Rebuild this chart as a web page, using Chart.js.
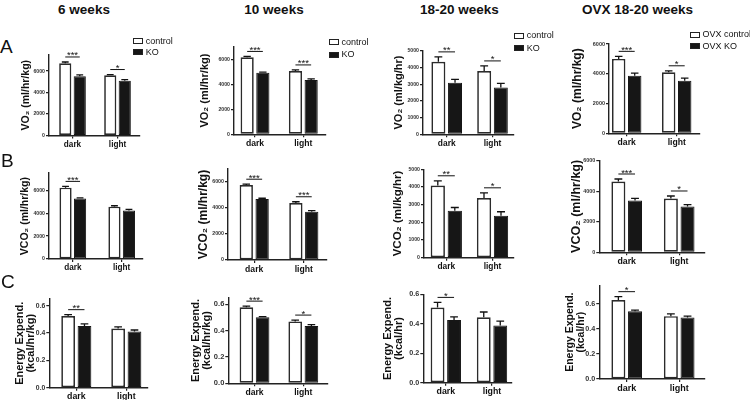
<!DOCTYPE html>
<html>
<head>
<meta charset="utf-8">
<script src="https://cdn.jsdelivr.net/npm/chart.js@4.4.1/dist/chart.umd.min.js"></script>
<style>
  body { margin: 0; background: #fff; }
  #fig { position: relative; width: 750px; height: 400px; overflow: hidden;
         font-family: 'Liberation Sans', Arial, sans-serif; color: #111; }
  #fig canvas { position: absolute; }
  .coltitle { position: absolute; font-weight: bold; font-size: 13.5px; line-height: 13.5px;
              white-space: nowrap; transform: translateX(-50%); }
  .letter { position: absolute; font-size: 19px; line-height: 19px; }
  .legend { position: absolute; font-size: 9px; line-height: 9px; white-space: nowrap; }
  .legend .box { position: absolute; width: 9.5px; height: 6px; border: 1.3px solid #222; box-sizing: border-box; }
  .legend .txt { position: absolute; }
</style>
</head>
<body>
<div id="fig"></div>
<script>
// categories / titles
const groups = ['dark', 'light'];
const ages = ['6 weeks', '10 weeks', '18-20 weeks', 'OVX 18-20 weeks'];
const seriesNames = [['control', 'KO'], ['control', 'KO'], ['control', 'KO'], ['OVX control', 'OVX KO']];

// VO2, one [dark, light] pair per age
const vo2Control    = [[6720, 5620], [6160, 5060], [4340, 3780], [5000, 4100]];
const vo2ControlErr = [[130, 60], [70, 90], [290, 310], [170, 100]];
const vo2KO         = [[5530, 5090], [4930, 4340], [3080, 2800], [3870, 3530]];
const vo2KOErr      = [[120, 120], [50, 90], [200, 250], [170, 180]];
const vo2Sig        = [['***', '*'], ['***', '***'], ['**', '*'], ['***', '*']];

// VCO2
const vco2Control    = [[6230, 4570], [5770, 4380], [4080, 3370], [4620, 3510]];
const vco2ControlErr = [[110, 80], [60, 100], [270, 300], [170, 170]];
const vco2KO         = [[5280, 4230], [4690, 3720], [2660, 2370], [3380, 2990]];
const vco2KOErr      = [[60, 100], [60, 80], [180, 230], [150, 130]];
const vco2Sig        = [['***', ''], ['***', '***'], ['**', '*'], ['***', '*']];

// energy expenditure
const eeControl    = [[0.524, 0.432], [0.578, 0.470], [0.510, 0.444], [0.632, 0.503]];
const eeControlErr = [[0.010, 0.012], [0.008, 0.010], [0.035, 0.036], [0.027, 0.018]];
const eeKO         = [[0.451, 0.410], [0.502, 0.435], [0.425, 0.388], [0.542, 0.492]];
const eeKOErr      = [[0.015, 0.012], [0.005, 0.010], [0.022, 0.030], [0.010, 0.012]];
const eeSig        = [['**', ''], ['***', '*'], ['*', ''], ['*', '']];

const vo2Titles  = ['VO₂ (ml/hr/kg)', 'VO₂ (ml/hr/kg)', 'VO₂ (ml/kg/hr)', 'VO₂ (ml/hr/kg)'];
const vco2Titles = ['VCO₂ (ml/hr/kg)', 'VCO₂ (ml/hr/kg)', 'VCO₂ (ml/kg/hr)', 'VCO₂ (ml/hr/kg)'];
const eeTitles   = [['Energy Expend.', '(kcal/hr/kg)'], ['Energy Expend.', '(kcal/hr/kg)'],
                    ['Energy Expend.', '(kcal/hr)'], ['Energy Expend.', '(kcal/hr)']];

// plot boxes on the page (axis lines), axis range, title offset, fonts
const boxes = [
  [ {L:49,    T:55,    B:135.5, R:140, c1:72.5,  c2:117.5, gw:29,   max:7500, step:2000, dx:23, tf:10.5, tk:5.2, xf:8.2},
    {L:234,   T:46.8,  B:134.3, R:326, c1:255,   c2:303.3, gw:31.4, max:7000, step:2000, dx:29, tf:11,   tk:5.2, xf:8.6},
    {L:423,   T:50.7,  B:134.3, R:514, c1:446.7, c2:492.5, gw:33.3, max:5000, step:1000, dx:24, tf:11,   tk:5.2, xf:8.4},
    {L:609,   T:44,    B:133.3, R:700, c1:626.7, c2:676.7, gw:32,   max:6000, step:2000, dx:32, tf:12,   tk:5.5, xf:8.6} ],
  [ {L:49,    T:173.1, B:259,   R:143, c1:72.8,  c2:121.7, gw:29,   max:7500, step:2000, dx:24, tf:10.5, tk:5.2, xf:8.2},
    {L:228,   T:169,   B:260,   R:327, c1:254.2, c2:303.8, gw:31.7, max:7000, step:2000, dx:25, tf:12,   tk:5.3, xf:8.6},
    {L:424,   T:169.3, B:257.7, R:514, c1:446.3, c2:492.5, gw:34,   max:5000, step:1000, dx:26, tf:11.5, tk:5.2, xf:8.4},
    {L:599.3, T:160.5, B:252.3, R:705, c1:626.7, c2:679.2, gw:33.3, max:6000, step:2000, dx:23, tf:12.5, tk:5.4, xf:8.8} ],
  [ {L:49.3,  T:298.8, B:387.7, R:148, c1:76.3,  c2:126.3, gw:32.7, max:0.65, step:0.2,  dx:30, tf:11,   tk:6.8, xf:8.8},
    {L:228.3, T:297.7, B:383.3, R:328, c1:254.5, c2:303.3, gw:32.4, max:0.65, step:0.2,  dx:33, tf:11,   tk:7.5, xf:8.6},
    {L:423.3, T:294.3, B:382.7, R:512, c1:445.8, c2:492,   gw:33,   max:0.6,  step:0.2,  dx:36, tf:11,   tk:7.2, xf:8.8},
    {L:599.3, T:285.3, B:379,   R:705, c1:626.7, c2:679.2, gw:33.3, max:0.75, step:0.2,  dx:29, tf:10.5, tk:7.2, xf:9} ]
];

const rows = [
  { control: vo2Control, controlErr: vo2ControlErr, ko: vo2KO, koErr: vo2KOErr, sig: vo2Sig, titles: vo2Titles },
  { control: vco2Control, controlErr: vco2ControlErr, ko: vco2KO, koErr: vco2KOErr, sig: vco2Sig, titles: vco2Titles },
  { control: eeControl, controlErr: eeControlErr, ko: eeKO, koErr: eeKOErr, sig: eeSig, titles: eeTitles }
];

const FONT = "'Liberation Sans', Arial, sans-serif";
Chart.defaults.font.family = FONT;
Chart.defaults.color = '#222';

const fig = document.getElementById('fig');

// error bars + significance brackets
const errorBars = {
  id: 'errorBars',
  afterDatasetsDraw(chart, args, opts) {
    const ctx = chart.ctx;
    const yScale = chart.scales.y;
    const tops = [[], []];
    ctx.save();
    ctx.strokeStyle = '#111';
    ctx.lineWidth = 1.3;
    chart.data.datasets.forEach((ds, i) => {
      chart.getDatasetMeta(i).data.forEach((bar, j) => {
        const v = ds.data[j].y + ds.err[j];
        const top = yScale.getPixelForValue(v);
        tops[i][j] = top;
        const half = bar.width * 0.28;
        ctx.beginPath();
        ctx.moveTo(bar.x, bar.y);
        ctx.lineTo(bar.x, top);
        ctx.moveTo(bar.x - half, top);
        ctx.lineTo(bar.x + half, top);
        ctx.stroke();
      });
    });
    const m0 = chart.getDatasetMeta(0).data;
    const m1 = chart.getDatasetMeta(1).data;
    ctx.lineWidth = 1;
    ctx.fillStyle = '#111';
    ctx.font = '9.5px ' + FONT;
    ctx.textAlign = 'center';
    ctx.textBaseline = 'alphabetic';
    opts.sig.forEach((s, j) => {
      if (!s) return;
      const yy = Math.min(tops[0][j], tops[1][j]) - 5;
      ctx.beginPath();
      ctx.moveTo(m0[j].x, yy);
      ctx.lineTo(m1[j].x, yy);
      ctx.stroke();
      ctx.fillText(s, (m0[j].x + m1[j].x) / 2, yy + 1.5);
    });
    ctx.restore();
  }
};

function makePanel(r, c) {
  const row = rows[r];
  const box = boxes[r][c];
  const multi = Array.isArray(row.titles[c]);
  const lh = multi ? 1.05 : 1.2;
  const yW = box.dx + box.tf * lh / 2;
  const left = Math.round(box.L - yW);
  const top = Math.round(box.T - 14);
  const width = Math.round(box.R + 4 - left);
  const height = Math.round(box.B + 15 - top);
  const canvas = document.createElement('canvas');
  canvas.width = width;
  canvas.height = height;
  canvas.style.left = left + 'px';
  canvas.style.top = top + 'px';
  fig.appendChild(canvas);

  const spacing = box.c2 - box.c1;
  const xmin = 1 - (box.c1 - box.L) / spacing;
  const xmax = 2 + (box.R - box.c2) / spacing;
  const step = box.step;

  new Chart(canvas, {
    type: 'bar',
    data: {
      datasets: [
        {
          label: seriesNames[c][0],
          data: groups.map((g, i) => ({ x: i + 1, y: row.control[c][i] })),
          err: row.controlErr[c],
          backgroundColor: '#ffffff',
          borderColor: '#2b2b2b',
          borderWidth: 1.7,
          borderSkipped: false
        },
        {
          label: seriesNames[c][1],
          data: groups.map((g, i) => ({ x: i + 1, y: row.ko[c][i] })),
          err: row.koErr[c],
          backgroundColor: '#161616',
          borderColor: '#161616',
          borderWidth: 1,
          borderSkipped: false
        }
      ]
    },
    options: {
      responsive: false,
      animation: false,
      layout: { padding: { top: box.T - top, right: left + width - box.R, bottom: 0, left: 0 } },
      datasets: { bar: { categoryPercentage: box.gw / spacing, barPercentage: 0.84 } },
      plugins: {
        legend: { display: false },
        tooltip: { enabled: false },
        errorBars: { sig: row.sig[c] }
      },
      scales: {
        x: {
          type: 'linear',
          offset: false,
          min: xmin,
          max: xmax,
          afterBuildTicks: s => { s.ticks = [{ value: 1 }, { value: 2 }]; },
          afterFit: s => { s.height = top + height - box.B; },
          grid: { offset: false, drawOnChartArea: false, drawTicks: true, tickLength: 3, color: '#222', lineWidth: 1.2 },
          border: { display: true, color: '#222', width: 1.4 },
          ticks: {
            padding: 1,
            color: '#111',
            autoSkip: false,
            maxRotation: 0,
            font: { size: box.xf, weight: 'bold' },
            callback: v => groups[Math.round(v) - 1]
          }
        },
        y: {
          min: 0,
          max: box.max,
          afterBuildTicks: s => {
            const t = [];
            for (let k = 0; k * step <= box.max + 1e-9; k++) t.push({ value: Math.round(k * step * 1000) / 1000 });
            s.ticks = t;
          },
          afterFit: s => { s.width = box.L - left; },
          grid: { drawOnChartArea: false, drawTicks: true, tickLength: 3, color: '#222', lineWidth: 1.2 },
          border: { display: true, color: '#222', width: 1.4 },
          ticks: {
            autoSkip: false,
            padding: 1,
            color: '#333',
            font: { size: box.tk, weight: 'bold' },
            callback: v => step < 1 ? v.toFixed(1) : String(v)
          },
          title: {
            display: true,
            text: row.titles[c],
            padding: 0,
            color: '#111',
            font: { size: box.tf, weight: 'bold', lineHeight: lh }
          }
        }
      }
    },
    plugins: [errorBars]
  });
}

for (let r = 0; r < 3; r++) {
  for (let c = 0; c < 4; c++) {
    makePanel(r, c);
  }
}

// column titles
const titleX = [84, 274, 459.3, 637.5];
ages.forEach((t, i) => {
  const d = document.createElement('div');
  d.className = 'coltitle';
  d.style.left = titleX[i] + 'px';
  d.style.top = '2.6px';
  d.textContent = t;
  fig.appendChild(d);
});

// panel letters
[['A', 0, 36.9], ['B', 1, 150.6], ['C', 1, 272.2]].forEach(([t, x, y]) => {
  const d = document.createElement('div');
  d.className = 'letter';
  d.style.left = x + 'px';
  d.style.top = y + 'px';
  d.textContent = t;
  fig.appendChild(d);
});

// legends on the top row
const legendPos = [
  { x: 133.3, y: 38.3, dy: 11 },
  { x: 329, y: 39.3, dy: 12.4 },
  { x: 514.3, y: 32.7, dy: 12.3 },
  { x: 690, y: 31.7, dy: 11.6 }
];
legendPos.forEach((p, c) => {
  seriesNames[c].forEach((name, k) => {
    const item = document.createElement('div');
    item.className = 'legend';
    item.style.left = p.x + 'px';
    item.style.top = (p.y + k * p.dy) + 'px';
    const b = document.createElement('span');
    b.className = 'box';
    b.style.left = '0px';
    b.style.top = '0px';
    b.style.background = k === 0 ? '#fff' : '#161616';
    const t = document.createElement('span');
    t.className = 'txt';
    t.style.left = '12.5px';
    t.style.top = '-1.5px';
    t.textContent = name;
    item.appendChild(b);
    item.appendChild(t);
    fig.appendChild(item);
  });
});
</script>
</body>
</html>
